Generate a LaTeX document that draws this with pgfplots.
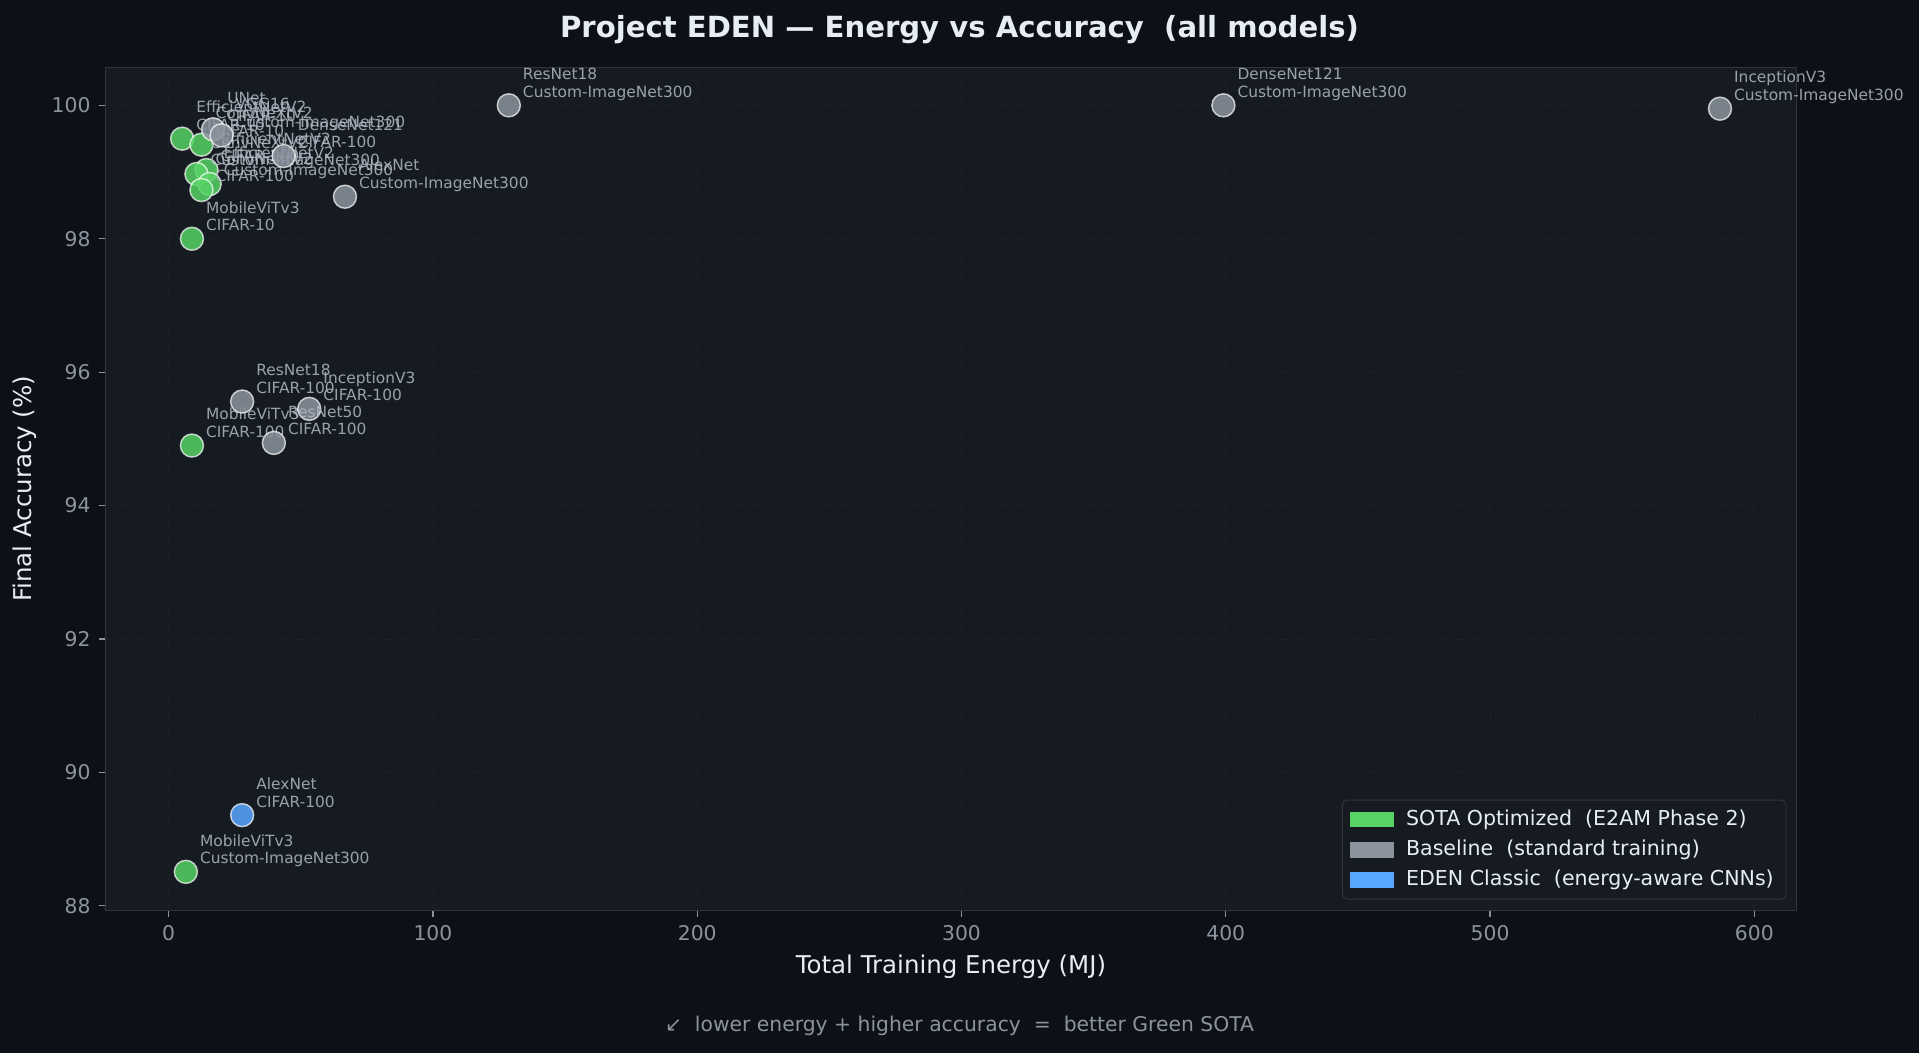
\documentclass[border=0pt]{standalone}
\usepackage{pgfplots}
\pgfplotsset{compat=1.18}
\usepackage{fontspec}
\setmainfont{DejaVu Sans}

\definecolor{figbg}{HTML}{0D1117}
\definecolor{plotbg}{HTML}{161B22}
\definecolor{spine}{HTML}{30363D}
\definecolor{gridc}{HTML}{1C2128}
\definecolor{tickc}{HTML}{8B949E}
\definecolor{labc}{HTML}{E6EDF3}
\definecolor{annc}{HTML}{B1BAC4}
\definecolor{sota}{HTML}{56D364}
\definecolor{base}{HTML}{8B949E}
\definecolor{classic}{HTML}{58A6FF}

\begin{document}
\begin{tikzpicture}
\fill[figbg] (0,0) rectangle (784pt,430pt);
\begin{axis}[
  at={(43pt,58pt)}, anchor=south west,
  scale only axis, width=691pt, height=344.5pt,
  xmin=-24, xmax=616, ymin=87.93, ymax=100.57,
  axis background/.style={fill=plotbg},
  axis line style={spine, line width=0.6pt},
  xtick={0,100,...,600}, ytick={88,90,...,100},
  tick align=outside, tick pos=left, major tick length=2.5pt,
  tick style={tickc, line width=0.5pt},
  ticklabel style={text=tickc, font=\fontsize{8.3}{10}\selectfont},
  /pgf/number format/assume math mode=true,
  grid=major, grid style={gridc, dashed, line width=0.3pt},
  xlabel={Total Training Energy (MJ)},
  ylabel={Final Accuracy (\%)},
  label style={text=labc, font=\fontsize{10}{12}\selectfont},
  xlabel style={at={(axis description cs:0.5,-0.0668)}, anchor=center},
  ylabel style={at={(axis description cs:-0.0478,0.5)}, anchor=center},
  legend style={at={(0.994,0.013)}, anchor=south east, fill=plotbg, draw=spine,
    rounded corners=2pt, text=labc, font=\fontsize{8.4}{10}\selectfont,
    row sep=0.4pt, inner xsep=3pt, inner ysep=2pt},
  legend cell align=left,
  nodes near coords={\pgfplotspointmeta\vphantom{g}},
  point meta=explicit symbolic,
  every node near coord/.style={anchor=south west, align=left, inner sep=0pt,
    font=\fontsize{6.3}{7.2}\selectfont, text=annc, xshift=5.5pt, yshift=1.7pt},
]
% SOTA Optimized (E2AM Phase 2)
\addplot[only marks, mark=*, mark size=4.7pt,
  mark options={fill=sota, fill opacity=0.85, draw=white, draw opacity=0.7, line width=0.6pt},
  forget plot] coordinates {
  (5.1,99.50) [EfficientNetV2\\CIFAR-10]
  (12.4,99.41) [ConvNeXtV2\\CIFAR-10]
  (14.3,99.03) [EfficientNetV2\\CIFAR-100]
  (10.5,98.97) [ConvNeXtV2\\Custom-ImageNet300]
  (15.5,98.82) [EfficientNetV2\\Custom-ImageNet300]
  (12.4,98.73) [ConvNeXtV2\\CIFAR-100]
  (8.8,98.00) [MobileViTv3\\CIFAR-10]
  (8.8,94.90) [MobileViTv3\\CIFAR-100]
  (6.5,88.51) [MobileViTv3\\Custom-ImageNet300]
};
% Baseline (standard training)
\addplot[only marks, mark=*, mark size=4.7pt,
  mark options={fill=base, fill opacity=0.85, draw=white, draw opacity=0.7, line width=0.6pt},
  forget plot] coordinates {
  (128.7,100.00) [ResNet18\\Custom-ImageNet300]
  (399.1,100.00) [DenseNet121\\Custom-ImageNet300]
  (587.0,99.95) [InceptionV3\\Custom-ImageNet300]
  (66.7,98.63) [AlexNet\\Custom-ImageNet300]
  (16.8,99.64) [UNet\\CIFAR-10]
  (20.0,99.55) [VGG16\\Custom-ImageNet300]
  (43.5,99.24) [DenseNet121\\CIFAR-100]
  (27.8,95.56) [ResNet18\\CIFAR-100]
  (53.2,95.45) [InceptionV3\\CIFAR-100]
  (39.8,94.94) [ResNet50\\CIFAR-100]
};
% EDEN Classic (energy-aware CNNs)
\addplot[only marks, mark=*, mark size=4.7pt,
  mark options={fill=classic, fill opacity=0.85, draw=white, draw opacity=0.7, line width=0.6pt},
  forget plot] coordinates {
  (27.8,89.36) [AlexNet\\CIFAR-100]
};
\addlegendimage{legend image code/.code={\path[draw=none, fill=none] (0pt,-3.25pt) rectangle (21pt,3.25pt); \fill[sota, draw=none, sharp corners] (0pt,-3.25pt) rectangle (18pt,3.25pt);}}
\addlegendentry{SOTA Optimized\ \ (E2AM Phase 2)}
\addlegendimage{legend image code/.code={\path[draw=none, fill=none] (0pt,-3.25pt) rectangle (21pt,3.25pt); \fill[base, draw=none, sharp corners] (0pt,-3.25pt) rectangle (18pt,3.25pt);}}
\addlegendentry{Baseline\ \ (standard training)}
\addlegendimage{legend image code/.code={\path[draw=none, fill=none] (0pt,-3.25pt) rectangle (21pt,3.25pt); \fill[classic, draw=none, sharp corners] (0pt,-3.25pt) rectangle (18pt,3.25pt);}}
\addlegendentry{EDEN Classic\ \ (energy-aware CNNs)}
\end{axis}
\node[text=labc, font=\bfseries\fontsize{11.9}{14}\selectfont] at (392pt,418pt)
  {Project EDEN — Energy vs Accuracy\ \ (all models)};
\node[text=tickc, font=\fontsize{8.3}{10}\selectfont] at (392pt,11pt)
  {↙\ \ lower energy + higher accuracy\ \ =\ \ better Green SOTA};
\end{tikzpicture}
\end{document}
